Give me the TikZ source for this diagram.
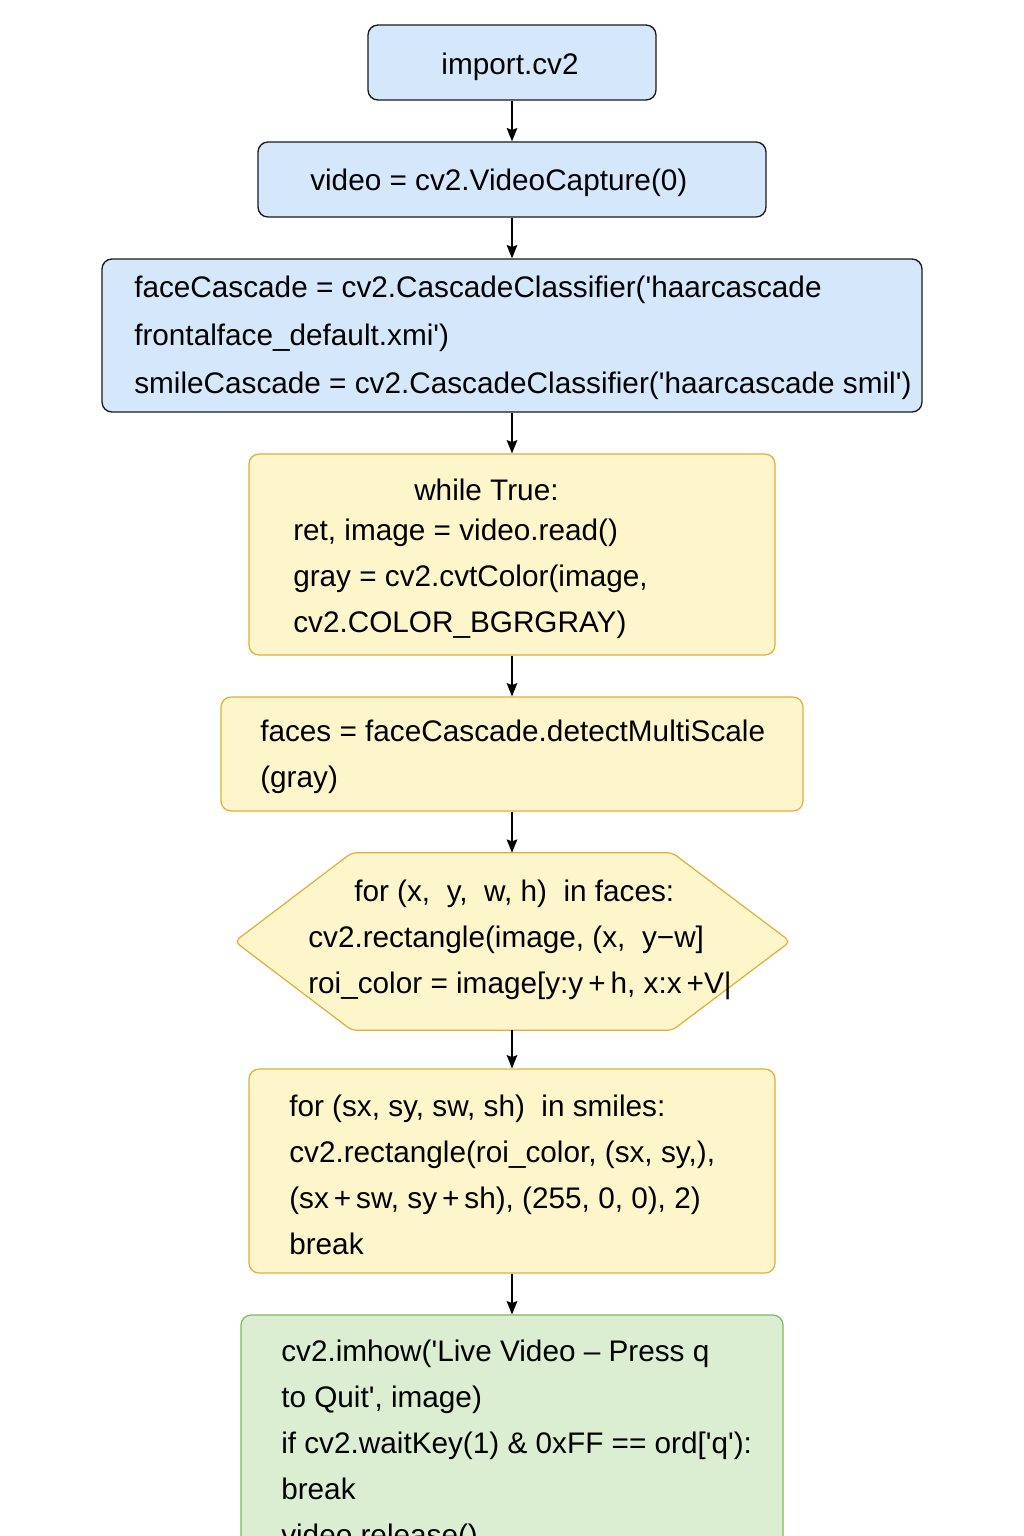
\documentclass[tikz,border=0pt]{standalone}
\usepackage{fontspec}
\newfontfamily\codefont{Liberation Sans}
\usetikzlibrary{arrows.meta}
\definecolor{bfill}{HTML}{D5E7FB}
\definecolor{bline}{HTML}{1A1A1A}
\definecolor{yfill}{HTML}{FEF6CB}
\definecolor{yline}{HTML}{E0AE38}
\definecolor{gfill}{HTML}{DBEED2}
\definecolor{gline}{HTML}{7DBA5B}
\tikzset{
  boxb/.style={draw=bline, fill=bfill, line width=1pt, rounded corners=7.5pt, inner sep=0pt},
  boxy/.style={draw=yline, fill=yfill, line width=0.9pt, rounded corners=7.5pt, inner sep=0pt},
  boxg/.style={draw=gline, fill=gfill, line width=0.9pt, rounded corners=7.5pt, inner sep=0pt},
  ghost/.style={inner sep=0pt},
  txt/.style={inner sep=0pt, align=left, anchor=west, font=\codefont\fontsize{22.3}{34.5}\selectfont},
  conn/.style={-{Stealth[length=10pt,width=8pt,inset=1.5pt]}, line width=1pt, black}
}
\begin{document}
\begin{tikzpicture}[x=0.75pt,y=-0.75pt]
\clip (0,0) rectangle (1024,1536);
\fill[white] (0,0) rectangle (1024,1536);
% boxes
\node[boxb, minimum width=216pt, minimum height=56.25pt] (b1) at (512,62.5) {};
\node[boxb, minimum width=381pt, minimum height=56.25pt] (b2) at (512,179.5) {};
\node[boxb, minimum width=615pt, minimum height=114.75pt] (b3) at (512,335.5) {};
\node[boxy, minimum width=394.5pt, minimum height=150.75pt] (b4) at (512,554.5) {};
\node[boxy, minimum width=436.5pt, minimum height=85.5pt] (b5) at (512,754) {};
\node[ghost, minimum width=416.25pt, minimum height=132.75pt] (hex) at (512.5,941.5) {};
\draw[draw=yline, fill=yfill, line width=0.9pt, rounded corners=4pt]
  (hex.west) -- ([xshift=87.75pt]hex.north west) -- ([xshift=-88.5pt]hex.north east)
  -- (hex.east) -- ([xshift=-88.5pt]hex.south east) -- ([xshift=87.75pt]hex.south west) -- cycle;
\node[boxy, minimum width=394.5pt, minimum height=153pt] (b7) at (512,1171) {};
\node[boxg, minimum width=406.5pt, minimum height=228.75pt] (b8) at (512,1467.5) {};
% texts
\node[txt, anchor=center] (t1) at (510,67) {import.cv2};
\node[txt] (t2) at (310,183) {video = cv2.VideoCapture(0)};
\node[txt, font=\codefont\fontsize{22.3}{36}\selectfont] (t3) at (134,338) {faceCascade = cv2.CascadeClassifier('haarcascade\\frontalface\_default.xmi')\\smileCascade = cv2.CascadeClassifier('haarcascade smil')};
\node[txt] (t4a) at (414,490) {while True:};
\node[txt] (t4) at (293,579) {ret, image = video.read()\\gray = cv2.cvtColor(image,\\cv2.COLOR\_BGRGRAY)};
\node[txt] (t5) at (260,757) {faces = faceCascade.detectMultiScale\\(gray)};
\node[txt] (t6a) at (354,894) {for (x,\ \ y,\ \ w,\ h)\ \ in faces:};
\node[txt] (t6) at (308,963) {cv2.rectangle(image, (x,\ \ y−w]\\roi\_color = image[y:y\,+\,h, x:x\,+V|};
\node[txt] (t7) at (289,1175) {for (sx, sy, sw, sh)\ \ in smiles:\\cv2.rectangle(roi\_color, (sx, sy,),\\(sx\,+\,sw, sy\,+\,sh), (255,\ 0,\ 0), 2)\\break};
\node[txt] (t8) at (281,1446) {cv2.imhow('Live Video – Press q\\to Quit', image)\\if cv2.waitKey(1) \& 0xFF == ord['q'):\\break\\video.release()};
% connectors
\draw[conn] (b1) -- (b2);
\draw[conn] (b2) -- (b3);
\draw[conn] (b3) -- (b4);
\draw[conn] (b4) -- (b5);
\draw[conn] (b5.south) -- (hex.north -| b5.south);
\draw[conn] (hex.south -| b7.north) -- (b7.north);
\draw[conn] (b7) -- (b8);
\end{tikzpicture}
\end{document}
